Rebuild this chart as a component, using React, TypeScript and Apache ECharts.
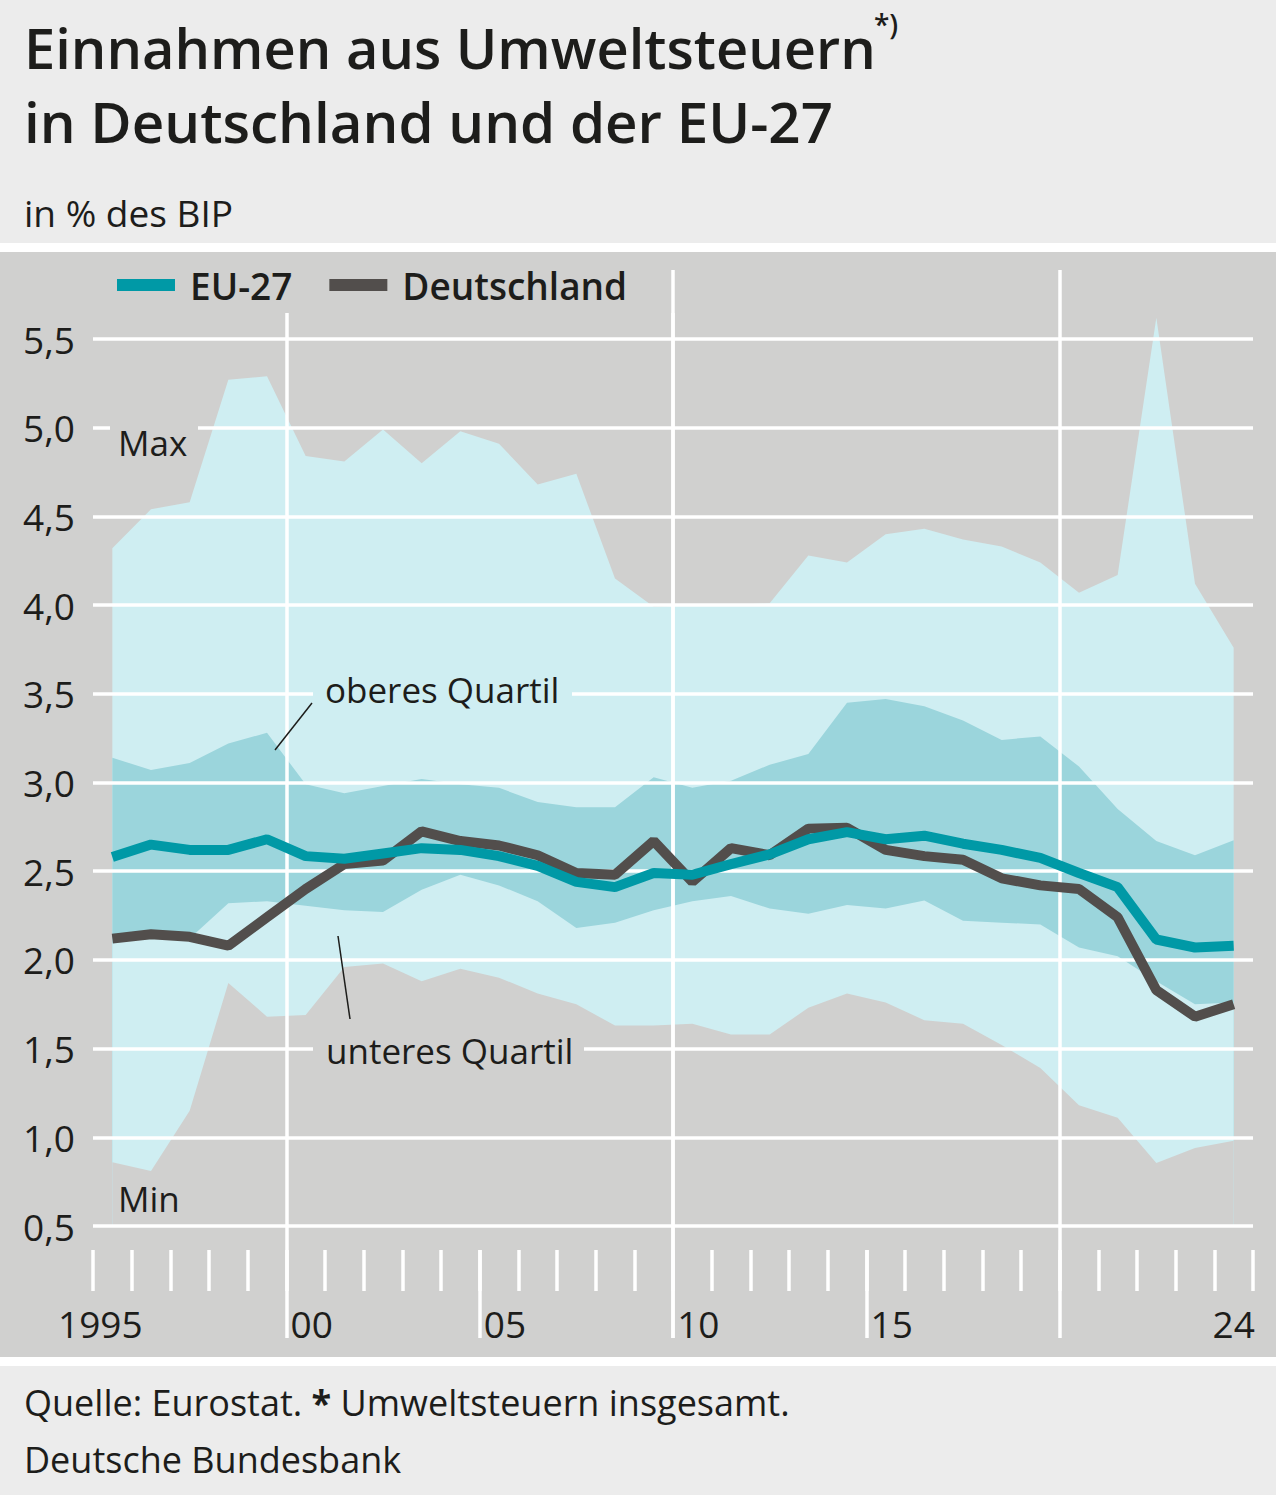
import React, { useEffect, useRef } from 'react';
import * as echarts from 'echarts';

const years = ['1995', '1996', '1997', '1998', '1999', '2000', '2001', '2002', '2003', '2004', '2005', '2006', '2007', '2008', '2009', '2010', '2011', '2012', '2013', '2014', '2015', '2016', '2017', '2018', '2019', '2020', '2021', '2022', '2023', '2024'];

const maxVals = [4.32, 4.54, 4.58, 5.27, 5.29, 4.84, 4.81, 4.99, 4.8, 4.98, 4.91, 4.68, 4.74, 4.15, 3.99, 4.0, 4.0, 4.01, 4.28, 4.24, 4.4, 4.43, 4.37, 4.33, 4.24, 4.07, 4.17, 5.62, 4.12, 3.76];
const q3Vals = [3.14, 3.07, 3.11, 3.22, 3.28, 2.99, 2.94, 2.98, 3.02, 2.99, 2.97, 2.89, 2.86, 2.86, 3.03, 2.97, 3.01, 3.1, 3.16, 3.45, 3.47, 3.43, 3.35, 3.24, 3.26, 3.09, 2.85, 2.67, 2.59, 2.675];
const q1Vals = [2.13, 2.13, 2.12, 2.32, 2.33, 2.305, 2.28, 2.27, 2.395, 2.48, 2.42, 2.33, 2.18, 2.21, 2.28, 2.33, 2.36, 2.29, 2.26, 2.31, 2.29, 2.335, 2.22, 2.21, 2.2, 2.07, 2.02, 1.88, 1.75, 1.76];
const minVals = [0.86, 0.81, 1.15, 1.87, 1.68, 1.69, 1.96, 1.98, 1.88, 1.95, 1.9, 1.81, 1.75, 1.63, 1.63, 1.64, 1.58, 1.58, 1.73, 1.81, 1.76, 1.66, 1.64, 1.52, 1.39, 1.18, 1.11, 0.855, 0.94, 0.98];
const euVals = [2.58, 2.65, 2.62, 2.62, 2.68, 2.585, 2.57, 2.6, 2.63, 2.62, 2.585, 2.53, 2.44, 2.41, 2.49, 2.48, 2.54, 2.595, 2.68, 2.72, 2.68, 2.7, 2.655, 2.62, 2.575, 2.49, 2.41, 2.115, 2.07, 2.08];
const deVals = [2.12, 2.145, 2.13, 2.08, 2.24, 2.4, 2.54, 2.56, 2.725, 2.67, 2.645, 2.59, 2.49, 2.48, 2.67, 2.44, 2.63, 2.59, 2.74, 2.745, 2.62, 2.585, 2.565, 2.46, 2.42, 2.4, 2.24, 1.83, 1.68, 1.75];

const xLabelYears = ['1995', '2000', '2005', '2010', '2015', '2024'];

const FONT = '"Open Sans", "Noto Sans", sans-serif';
const BG = '#ececec';
const PLOT_BG = '#d0d0cf';
const LIGHT = '#cfeef2';
const BAND = '#9bd5dc';
const EU_C = '#0099a6';
const DE_C = '#524e4c';
const TXT = '#1d1d1b';
const WHITE = '#ffffff';

// plot geometry (pixels)
const PLOT_L = 93;
const PLOT_R = 1253;
const BAND_W = (PLOT_R - PLOT_L) / years.length;
const xBoundary = (i: number) => PLOT_L + BAND_W * i;
const W = 1276;
const H = 1495;

function areaSeries(name: string, data: number[], color: string) {
  return {
    name,
    type: 'line',
    xAxisIndex: 0,
    yAxisIndex: 0,
    data,
    symbol: 'none',
    silent: true,
    clip: false,
    z: 1,
    lineStyle: { width: 0, opacity: 0 },
    itemStyle: { color },
    areaStyle: { color, opacity: 1, origin: 'start' },
  };
}

function text(t: string, x: number, y: number, size: number, extra: any = {}) {
  return {
    type: 'text',
    x,
    y,
    z: 7,
    silent: true,
    style: {
      text: t,
      fontSize: size,
      fontFamily: FONT,
      fill: TXT,
      align: 'left',
      verticalAlign: 'middle',
      ...extra,
    },
  };
}

// decoration grid whose two value-axis split lines (at 0 and 10) sit at boundaries i0 and i1
function lineGrid(i0: number, i1: number, top: number, bottom: number) {
  return { left: xBoundary(i0), right: W - xBoundary(i1), top, bottom: H - bottom };
}
function lineXAxis(gridIndex: number) {
  return {
    gridIndex,
    type: 'value',
    min: 0,
    max: 10,
    interval: 10,
    z: 3,
    axisLine: { show: false },
    axisTick: { show: false },
    axisLabel: { show: false },
    splitLine: { show: true, lineStyle: { color: WHITE, width: 3.5 } },
  };
}
function hiddenY(gridIndex: number) {
  return { gridIndex, type: 'value', show: false, min: 0, max: 1, splitLine: { show: false } };
}

function buildOption() {
  return {
    animation: false,
    backgroundColor: BG,
    textStyle: { fontFamily: FONT },
    grid: [
      { left: PLOT_L, right: W - PLOT_R, top: 339, bottom: 269 },
      lineGrid(15, 25, 270, 1338), // 2010, 2020
      lineGrid(5, 15, 313, 1338), // 2000
      lineGrid(10, 20, 1250, 1338), // long ticks 2005, 2015
    ],
    legend: {
      data: ['EU-27', 'Deutschland'],
      left: 117,
      top: 265,
      padding: 0,
      icon: 'rect',
      itemWidth: 58,
      itemHeight: 12,
      itemGap: 37,
      selectedMode: false,
      textStyle: {
        fontSize: 37,
        fontWeight: 600,
        fontFamily: FONT,
        color: TXT,
        lineHeight: 40,
        padding: [0, 0, 0, 10],
      },
    },
    xAxis: [
      {
        gridIndex: 0,
        type: 'category',
        data: years,
        boundaryGap: true,
        offset: 24,
        z: 3,
        axisLine: { show: false },
        axisTick: { show: true, interval: 0, length: 41, lineStyle: { color: WHITE, width: 3.5 } },
        axisLabel: {
          interval: (i: number, v: string) => xLabelYears.indexOf(v) >= 0,
          margin: 55,
          color: TXT,
          fontSize: 37,
          fontFamily: FONT,
          formatter: (v: string) => (v === '1995' ? '{y|1995}' : v === '2024' ? '{e|24}' : '{s|' + v.slice(2) + '}'),
          rich: {
            y: { fontSize: 37, fontFamily: FONT, color: TXT, padding: [0, 24, 0, 0] },
            s: { fontSize: 37, fontFamily: FONT, color: TXT, padding: [0, 0, 0, 12] },
            e: { fontSize: 37, fontFamily: FONT, color: TXT },
          },
        },
        splitLine: { show: false },
      },
      lineXAxis(1),
      lineXAxis(2),
      lineXAxis(3),
    ],
    yAxis: [
      {
        gridIndex: 0,
        type: 'value',
        min: 0.5,
        max: 5.5,
        interval: 0.5,
        z: 3,
        axisLine: { show: false },
        axisTick: { show: false },
        axisLabel: {
          margin: 18,
          color: TXT,
          fontSize: 37,
          fontFamily: FONT,
          formatter: (v: number) => v.toFixed(1).replace('.', ','),
        },
        splitLine: { show: true, lineStyle: { color: WHITE, width: 3.5 } },
      },
      hiddenY(1),
      hiddenY(2),
      hiddenY(3),
    ],
    series: [
      areaSeries('Max', maxVals, LIGHT),
      areaSeries('oberes Quartil', q3Vals, BAND),
      areaSeries('unteres Quartil', q1Vals, LIGHT),
      areaSeries('Min', minVals, PLOT_BG),
      {
        name: 'Deutschland',
        type: 'line',
        xAxisIndex: 0,
        yAxisIndex: 0,
        data: deVals,
        symbol: 'none',
        z: 5,
        itemStyle: { color: DE_C },
        lineStyle: { color: DE_C, width: 10, cap: 'butt' },
      },
      {
        name: 'EU-27',
        type: 'line',
        xAxisIndex: 0,
        yAxisIndex: 0,
        data: euVals,
        symbol: 'none',
        z: 6,
        itemStyle: { color: EU_C },
        lineStyle: { color: EU_C, width: 10, cap: 'butt' },
      },
    ],
    graphic: {
      elements: [
        { type: 'rect', z: 0, silent: true, shape: { x: 0, y: 243, width: W, height: 9 }, style: { fill: WHITE } },
        { type: 'rect', z: 0, silent: true, shape: { x: 0, y: 252, width: W, height: 1105 }, style: { fill: PLOT_BG } },
        { type: 'rect', z: 0, silent: true, shape: { x: 0, y: 1357, width: W, height: 9 }, style: { fill: WHITE } },
        text('Einnahmen aus Umweltsteuern', 24, 47, 56, { fontWeight: 600 }),
        text('*)', 874, 10, 28, { fontWeight: 600, verticalAlign: 'top' }),
        text('in Deutschland und der EU-27', 24, 121, 56.5, { fontWeight: 600 }),
        text('in % des BIP', 24, 212, 37),
        { type: 'rect', z: 6, silent: true, shape: { x: 110, y: 424, width: 88, height: 8 }, style: { fill: PLOT_BG } },
        { type: 'rect', z: 6, silent: true, shape: { x: 313, y: 690, width: 259, height: 8 }, style: { fill: LIGHT } },
        { type: 'rect', z: 6, silent: true, shape: { x: 313, y: 1045, width: 271, height: 8 }, style: { fill: PLOT_BG } },
        text('Max', 118, 442, 35),
        text('Min', 118, 1198, 35),
        text('oberes Quartil', 325, 689, 35),
        text('unteres Quartil', 326, 1050, 35),
        { type: 'line', z: 7, silent: true, shape: { x1: 312, y1: 703, x2: 275, y2: 750 }, style: { stroke: TXT, lineWidth: 1.5 } },
        { type: 'line', z: 7, silent: true, shape: { x1: 338, y1: 936, x2: 350, y2: 1019 }, style: { stroke: TXT, lineWidth: 1.5 } },
        {
          type: 'text',
          x: 24,
          y: 1402,
          z: 7,
          silent: true,
          style: {
            text: '{r|Quelle: Eurostat. }{b|*}{r| Umweltsteuern insgesamt.}',
            fontSize: 36,
            fontFamily: FONT,
            fill: TXT,
            align: 'left',
            verticalAlign: 'middle',
            rich: {
              r: { fontSize: 36, fontFamily: FONT, fill: TXT },
              b: { fontSize: 36, fontFamily: FONT, fill: TXT, fontWeight: 'bold' },
            },
          },
        },
        text('Deutsche Bundesbank', 24, 1459, 36),
      ],
    },
  };
}

export default function App() {
  const ref = useRef<HTMLDivElement>(null);
  useEffect(() => {
    if (!ref.current) return;
    const chart = echarts.init(ref.current, undefined, { renderer: 'svg', width: W, height: H });
    chart.setOption(buildOption() as any);
    return () => {
      chart.dispose();
    };
  }, []);
  return <div ref={ref} style={{ position: 'absolute', left: 0, top: 0, width: W, height: H }} />;
}
